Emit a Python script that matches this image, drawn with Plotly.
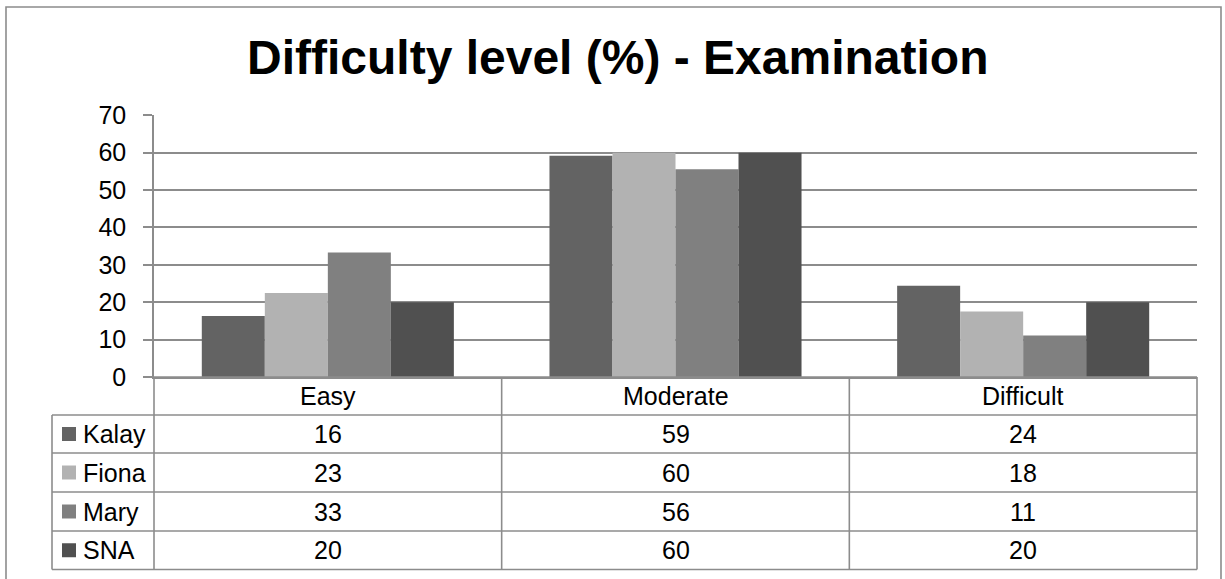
import math
import plotly.graph_objects as go

# ---- data ----
categories = ["Easy", "Moderate", "Difficult"]
series_names = ["Kalay", "Fiona", "Mary", "SNA"]
kalay = [16.3, 59.2, 24.4]
fiona = [22.5, 60.0, 17.5]
mary = [33.3, 55.6, 11.1]
sna = [20.0, 60.0, 20.0]
series_values = [kalay, fiona, mary, sna]
colors = ["#636363", "#b2b2b2", "#808080", "#505050"]
title_text = "Difficulty level (%) - Examination"
y_ticks = [0, 10, 20, 30, 40, 50, 60, 70]

W, H = 1225, 579
FONT = "Liberation Sans, Arial, sans-serif"
GRID = "#8c8c8c"


def px(x):
    return x / W


def py(y):
    return 1 - y / H


def xl_round(v):
    return int(math.floor(v + 0.5))


fig = go.Figure()
for name, vals, col in zip(series_names, series_values, colors):
    fig.add_trace(go.Bar(x=categories, y=vals, name=name,
                         marker=dict(color=col, line=dict(width=0)),
                         hoverinfo="x+y+name"))

# plot area geometry (pixels)
x_left, x_right = 154, 1197
y_zero, y_top = 377, 115.3
row_edges = [377, 415, 453, 492, 531, 569.5]
legend_left = 52

shapes = []
line = dict(color=GRID, width=1.6)
# outer chart border
shapes.append(dict(type="rect", xref="paper", yref="paper",
                   x0=px(6), x1=px(1221), y0=py(600), y1=py(7),
                   line=dict(color=GRID, width=1.6)))
# horizontal table lines
for i, y in enumerate(row_edges):
    x0 = x_left if i == 0 else legend_left
    shapes.append(dict(type="line", xref="paper", yref="paper",
                       x0=px(x0), x1=px(x_right), y0=py(y), y1=py(y), line=line))
# vertical table lines
col_edges = [x_left + k * (x_right - x_left) / 3 for k in range(4)]
for xe in col_edges:
    shapes.append(dict(type="line", xref="paper", yref="paper",
                       x0=px(xe), x1=px(xe), y0=py(377), y1=py(row_edges[-1]), line=line))
shapes.append(dict(type="line", xref="paper", yref="paper",
                   x0=px(legend_left), x1=px(legend_left),
                   y0=py(row_edges[1]), y1=py(row_edges[-1]), line=line))

annotations = []
# title
annotations.append(dict(text="<b>%s</b>" % title_text, xref="paper", yref="paper",
                        x=px(617), y=py(57), showarrow=False,
                        xanchor="center", yanchor="middle",
                        font=dict(family=FONT, size=48, color="#000000")))
# header row: category names
hdr_y = (row_edges[0] + row_edges[1]) / 2
for c in categories:
    annotations.append(dict(text=c, xref="x", yref="paper", x=c, y=py(hdr_y),
                            showarrow=False, xanchor="center", yanchor="middle",
                            font=dict(family=FONT, size=25, color="#000000")))
# data rows
for r, (name, vals, col) in enumerate(zip(series_names, series_values, colors)):
    yt, yb = row_edges[r + 1], row_edges[r + 2]
    yc = (yt + yb) / 2
    shapes.append(dict(type="rect", xref="paper", yref="paper",
                       x0=px(62), x1=px(76), y0=py(yc - 7), y1=py(yc + 7),
                       fillcolor=col, line=dict(width=0)))
    annotations.append(dict(text=name, xref="paper", yref="paper",
                            x=px(81), y=py(yc), showarrow=False,
                            xanchor="left", yanchor="middle",
                            font=dict(family=FONT, size=25, color="#000000")))
    for c, v in zip(categories, vals):
        annotations.append(dict(text=str(xl_round(v)), xref="x", yref="paper",
                                x=c, y=py(yc), showarrow=False,
                                xanchor="center", yanchor="middle",
                                font=dict(family=FONT, size=25, color="#000000")))

fig.update_layout(
    width=W, height=H, autosize=False,
    margin=dict(l=0, r=0, t=0, b=0, pad=0, autoexpand=False),
    paper_bgcolor="white", plot_bgcolor="white",
    barmode="group", bargap=0.275, bargroupgap=0,
    showlegend=False,
    shapes=shapes, annotations=annotations,
    xaxis=dict(domain=[px(x_left), px(x_right)], showticklabels=False,
               showgrid=False, zeroline=False, ticks="", automargin=False,
               showline=True, linecolor=GRID, linewidth=1.6),
    yaxis=dict(domain=[py(y_zero), py(y_top)], range=[0, 70], automargin=False,
               tickvals=y_ticks, ticks="outside", ticklen=9, tickcolor=GRID,
               tickwidth=1.6, showgrid=True, gridcolor=GRID, gridwidth=1.6,
               zeroline=False, showline=True, linecolor=GRID, linewidth=1.6,
               ticklabelstandoff=12,
               tickfont=dict(family=FONT, size=25, color="#000000")),
)

fig.write_html("out.html", config={"responsive": False, "displayModeBar": False},
               post_script="document.body.style.margin='0';document.body.style.overflow='hidden';")
